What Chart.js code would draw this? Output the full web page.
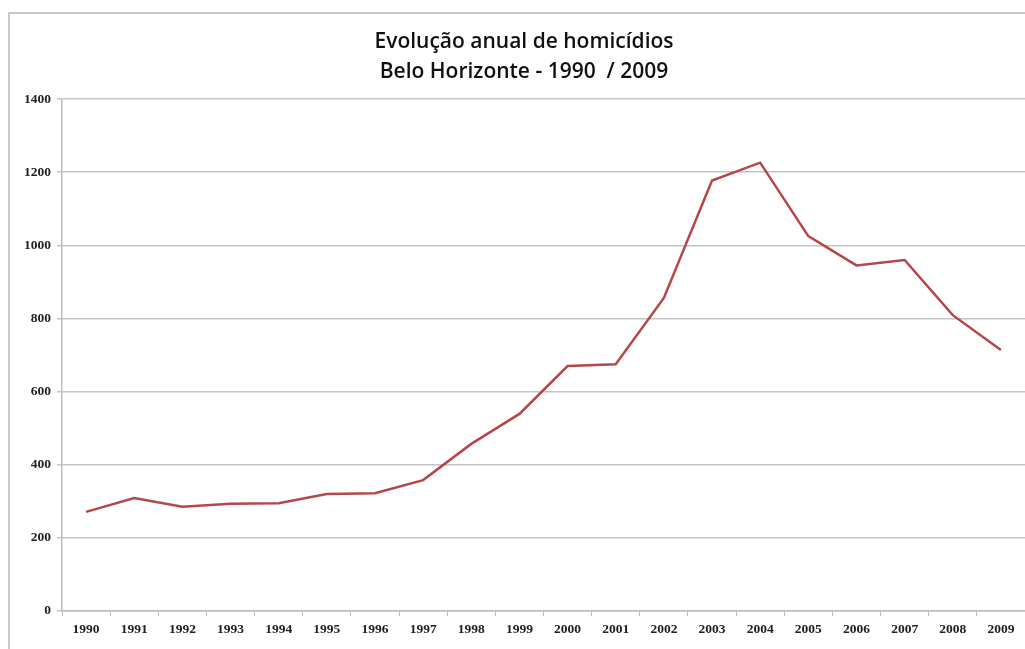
<!DOCTYPE html>
<html lang="pt">
<head>
    <meta charset="UTF-8">
    <title>Evolução anual de homicídios</title>
    <style>
        html, body { margin: 0; padding: 0; background: #fff; overflow: hidden; }
        .frame {
            position: absolute; left: 8px; top: 12px; width: 1100px; height: 700px;
            border-left: 2px solid #c9c9c9; border-top: 2px solid #c9c9c9;
        }
        .wrap { position: absolute; left: 0; top: 0; width: 1025px; height: 649px; }
    </style>
</head>
<body>
    <div class="frame"></div>
    <div class="wrap"><canvas id="myChart" width="1025" height="649"></canvas></div>

    <script src="https://cdn.jsdelivr.net/npm/chart.js"></script>
    <script>
        // dados
        var years = ['1990', '1991', '1992', '1993', '1994', '1995', '1996', '1997', '1998', '1999',
                     '2000', '2001', '2002', '2003', '2004', '2005', '2006', '2007', '2008', '2009'];
        var homicides = [271, 309, 285, 293, 295, 320, 322, 358, 457, 539,
                         670, 675, 856, 1177, 1226, 1025, 945, 960, 809, 714];
        var yTicks = [0, 200, 400, 600, 800, 1000, 1200, 1400];

        var tickFont = { family: 'Liberation Serif', size: 13.5, weight: 'bold' };

        var ctx = document.getElementById('myChart').getContext('2d');
        var myChart = new Chart(ctx, {
            type: 'line',
            data: {
                labels: years,
                datasets: [{
                    data: homicides,
                    borderColor: '#b5474b',
                    borderWidth: 2.5,
                    pointRadius: 0,
                    tension: 0,
                    fill: false
                }]
            },
            options: {
                responsive: false,
                animation: false,
                // padding esquerdo desloca o título para a direita, como no original
                layout: { padding: { left: 23, right: 0, top: 0, bottom: 0 } },
                plugins: {
                    legend: { display: false },
                    tooltip: { enabled: false },
                    title: {
                        display: true,
                        text: ['Evolução anual de homicídios', 'Belo Horizonte - 1990  / 2009'],
                        color: '#111',
                        font: { family: 'Open Sans', size: 21, weight: '600', lineHeight: 1.43 },
                        padding: { top: 27, bottom: 12 }
                    }
                },
                scales: {
                    x: {
                        offset: true,
                        grid: { offset: true, drawOnChartArea: false, tickLength: 5, color: '#bdbdbd' },
                        border: { color: '#bdbdbd', width: 1.5 },
                        ticks: { color: '#222', font: tickFont, padding: 5, maxRotation: 0, autoSkip: false },
                        afterFit: function (scale) { scale.height = 38; }
                    },
                    y: {
                        min: 0,
                        max: 1400,
                        afterBuildTicks: function (scale) {
                            scale.ticks = yTicks.map(function (v) { return { value: v }; });
                        },
                        grid: { color: '#c4c4c4', lineWidth: 1.5, tickLength: 5 },
                        border: { color: '#bdbdbd', width: 1.5 },
                        ticks: {
                            color: '#222', font: tickFont, padding: 6,
                            callback: function (v) { return String(v); }
                        },
                        afterFit: function (scale) { scale.width = 39; }
                    }
                }
            }
        });
    </script>
</body>
</html>
